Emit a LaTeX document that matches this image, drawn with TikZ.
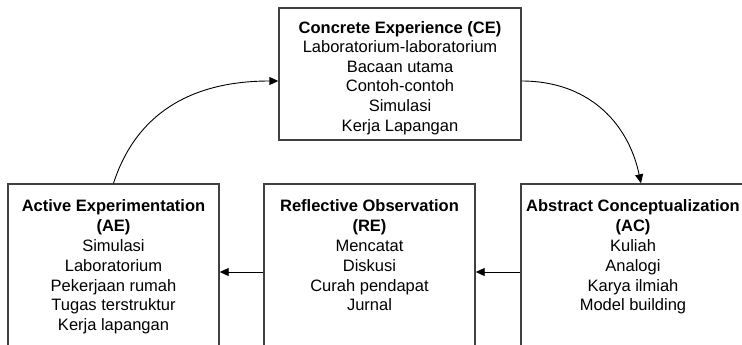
\documentclass[tikz,border=0pt]{standalone}
\usepackage{fontspec}
\setmainfont{Liberation Sans}
\usetikzlibrary{arrows.meta}
\begin{document}
\begin{tikzpicture}[x=1pt,y=-1pt,
  stagebox/.style={draw=black!75,line width=1.4pt,rectangle,inner sep=0pt},
  stagetext/.style={anchor=north,inner sep=0pt,align=center,
    font=\fontsize{16.5}{19.8}\selectfont},
  arr/.style={draw=black,line width=0.9pt,-{Triangle[length=9pt,width=8pt]}}]
  \useasboundingbox (0,0) rectangle (742,345);
  \clip (0,0) rectangle (742,345);

  % stage boxes
  \node[stagebox,minimum width=242pt,minimum height=132pt] (ce) at (400,74) {};
  \node[stagebox,minimum width=211pt,minimum height=176pt] (ae) at (113.5,272) {};
  \node[stagebox,minimum width=211pt,minimum height=176pt] (re) at (369.5,272) {};
  \node[stagebox,minimum width=224pt,minimum height=176pt] (ac) at (633,272) {};

  % stage contents
  \node[stagetext] (cet) at ([yshift=-14pt]ce.north)
    {\textbf{Concrete Experience (CE)}\\[-1pt]Laboratorium-laboratorium\\Bacaan utama\\Contoh-contoh\\Simulasi\\Kerja Lapangan};
  \node[stagetext] (aet) at ([yshift=-16.5pt]ae.north)
    {\textbf{Active Experimentation}\\\textbf{(AE)}\\Simulasi\\Laboratorium\\Pekerjaan rumah\\Tugas terstruktur\\Kerja lapangan};
  \node[stagetext] (ret) at ([yshift=-16.5pt]re.north)
    {\textbf{Reflective Observation}\\\textbf{(RE)}\\Mencatat\\Diskusi\\Curah pendapat\\Jurnal};
  \node[stagetext] (act) at ([yshift=-16.5pt]ac.north)
    {\textbf{Abstract Conceptualization}\\\textbf{(AC)}\\Kuliah\\Analogi\\Karya ilmiah\\Model building};

  % cycle connectors
  \draw[arr] ([yshift=-7pt]ce.east) to[out=0,in=102,looseness=1.05] ([xshift=8pt]ac.north);
  \draw[arr] (ac.west) -- (re.east);
  \draw[arr] (re.west) -- (ae.east);
  \draw[arr] (ae.north) to[out=72,in=180,looseness=1.05] ([yshift=-7pt]ce.west);
\end{tikzpicture}
\end{document}
